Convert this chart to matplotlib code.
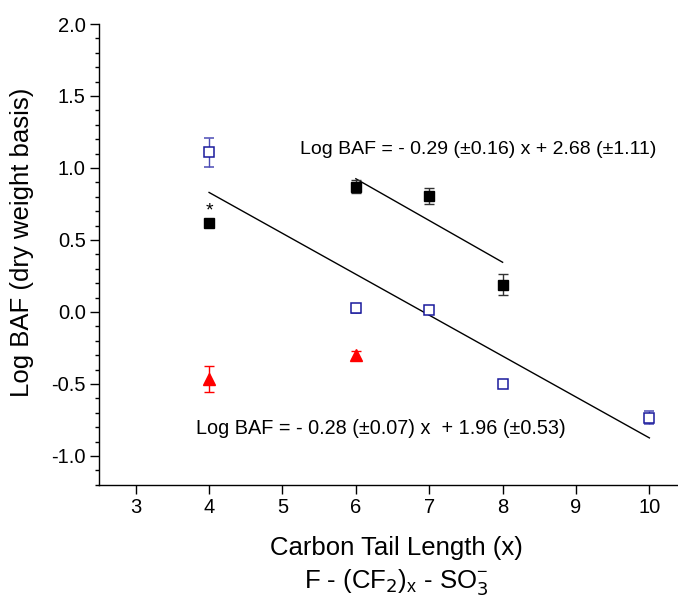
"""Log BAF vs carbon tail length for perfluoroalkyl sulfonates."""

import matplotlib

matplotlib.use("Agg")
import matplotlib.pyplot as plt
from matplotlib.ticker import MultipleLocator

plt.rcParams["font.family"] = ["Liberation Sans", "DejaVu Sans"]
plt.rcParams["axes.unicode_minus"] = False

# black filled squares
black_x = [4, 6, 7, 8]
black_y = [0.615, 0.87, 0.805, 0.19]
black_err = [0.02, 0.045, 0.055, 0.075]

# blue open squares
blue_x = [4, 6, 7, 8, 10]
blue_y = [1.11, 0.025, 0.01, -0.50, -0.735]
blue_err = [0.10, 0.03, 0.02, 0.0, 0.045]

# red triangles
red_x = [4, 6]
red_y = [-0.465, -0.30]
red_err = [0.09, 0.03]

# fitted lines (start/end x and values)
fit_upper_x = [6, 8]
fit_upper_y = [0.925, 0.345]
fit_lower_x = [4, 10]
fit_lower_y = [0.83, -0.875]

eq_upper = "Log BAF = - 0.29 (\u00b10.16) x + 2.68 (\u00b11.11)"
eq_lower = "Log BAF = - 0.28 (\u00b10.07) x  + 1.96 (\u00b10.53)"

W, H = 678, 603
fig = plt.figure(figsize=(W / 100, H / 100), dpi=100)
ax = fig.add_axes([99 / W, (H - 484.7) / H, 1 - 99 / W, (484.7 - 24) / H])

ax.plot(fit_upper_x, fit_upper_y, color="black", lw=1.0)
ax.plot(fit_lower_x, fit_lower_y, color="black", lw=1.0)

ax.errorbar(black_x, black_y, yerr=black_err, fmt="s", ms=7, color="black",
            ecolor="#333333", elinewidth=1, capsize=3.5, capthick=1)
ax.errorbar(blue_x, blue_y, yerr=blue_err, fmt="s", ms=6.5, mfc="white",
            mec="#1a1a9c", mew=1.1, ecolor="#4b4bb5", elinewidth=1,
            capsize=3.5, capthick=1)
ax.errorbar(red_x, red_y, yerr=red_err, fmt="^", ms=8.5, color="#ff0000",
            ecolor="#ff0000", elinewidth=1, capsize=3.5, capthick=1)

ax.text(4, 0.70, "*", ha="center", va="center", fontsize=14)

fig.text(300 / W, 1 - 149 / H, eq_upper, fontsize=14, va="center", ha="left")
fig.text(196 / W, 1 - 428 / H, eq_lower, fontsize=14.3, va="center", ha="left")

ax.set_xlim(2.5, 10.39)
ax.set_ylim(-1.2, 2.0)
ax.xaxis.set_major_locator(MultipleLocator(1))
ax.yaxis.set_minor_locator(MultipleLocator(0.1))
ax.set_yticks([-1.0, -0.5, 0.0, 0.5, 1.0, 1.5, 2.0])

for side in ("top", "right"):
    ax.spines[side].set_visible(False)
for side in ("left", "bottom"):
    ax.spines[side].set_linewidth(1.0)

ax.tick_params(which="major", direction="out", length=6.5, width=1,
               labelsize=14.5, pad=3)
ax.tick_params(which="minor", direction="out", length=3, width=1)

fig.text(22 / W, 1 - 242 / H, "Log BAF (dry weight basis)", fontsize=18.5,
         rotation=90, ha="center", va="center")
fig.text(396 / W, 1 - 548 / H, "Carbon Tail Length (x)",
         fontsize=18.5, ha="center", va="center")
fig.text(396 / W, 1 - 583 / H,
         r"F - (CF$_2$)$_\mathregular{x}$ - SO$_3^{\mathregular{-}}$",
         fontsize=18.5, ha="center", va="center")

fig.savefig("out.png", dpi=100)
